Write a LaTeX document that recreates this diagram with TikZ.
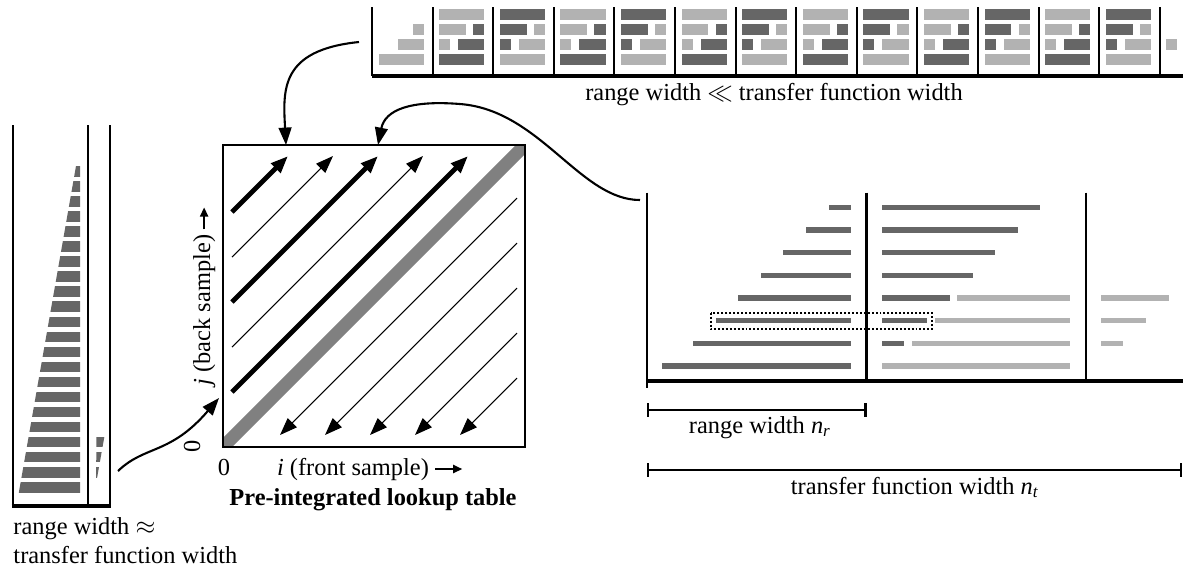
\documentclass[tikz,border=0pt]{standalone}
\usepackage{fontspec}
\setmainfont{Liberation Serif}
\usetikzlibrary{calc,arrows.meta}

\definecolor{darkbar}{gray}{0.4}
\definecolor{lightbar}{gray}{0.7}
\definecolor{diagband}{gray}{0.5}

\tikzset{
  >={Triangle[length=7.5pt,width=5.5pt]},
  every node/.style={inner sep=0pt,font=\fontsize{10.5}{12.6}\selectfont},
  wall/.style={line width=0.9pt},
  floor/.style={line width=1.9pt},
  thinray/.style={->,line width=0.45pt},
  thickray/.style={->,line width=2pt},
  linkarrow/.style={->,line width=0.9pt},
  axisarrow/.style={-{Triangle[length=4pt,width=3.4pt]},line width=1.1pt},
  widthbar/.style={{Bar[width=6pt]}-{Bar[width=6pt]},line width=1pt},
}

\begin{document}
\begin{tikzpicture}[x=0.43pt,y=-0.43pt]
  \useasboundingbox (0,0) rectangle (1183,573);

  % top strip
  \foreach \c in {0,...,13}
    \draw[wall] (372+60.6*\c,7) -- (372+60.6*\c,76);
  \draw[floor] (372,76) -- (1183,76);
  \foreach \c in {1,...,12} {
    \pgfmathsetmacro\xo{372+60.6*\c}
    \ifodd\c\relax\def\ca{lightbar}\def\cb{darkbar}\else\def\ca{darkbar}\def\cb{lightbar}\fi
    \fill[\ca] (\xo+6.5,9.3) rectangle (\xo+51.7,19.6);
    \fill[\ca] (\xo+6.5,24.3) rectangle (\xo+33.4,34.6);
    \fill[\cb] (\xo+40.5,24.3) rectangle (\xo+51.7,34.6);
    \fill[\ca] (\xo+6.5,39.3) rectangle (\xo+17.5,49.6);
    \fill[\cb] (\xo+25.5,39.3) rectangle (\xo+51.7,49.6);
    \fill[\cb] (\xo+6.5,54.3) rectangle (\xo+51.7,64.6);
  }
  \fill[lightbar] (412.5,24.3) rectangle (423.7,34.6);
  \fill[lightbar] (397.5,39.3) rectangle (423.7,49.6);
  \fill[lightbar] (378.5,54.3) rectangle (423.7,64.6);
  \fill[lightbar] (1166.3,39.3) rectangle (1177.3,49.6);
  \node[anchor=base] (striplbl) at (774,100) {range width $\ll$ transfer function width};

  % left strip
  \draw[wall] (12.7,125) -- (12.7,506);
  \draw[wall] (88.3,125) -- (88.3,506);
  \draw[wall] (110,125) -- (110,506);
  \draw[floor] (11.5,506) -- (111,506);
  \begin{scope}
    \clip (76,166) -- (80,166) -- (80,495) -- (18.4,495) -- cycle;
    \foreach \k in {0,...,21}
      \fill[darkbar] (0,166+15.05*\k) rectangle (90,176.5+15.05*\k);
  \end{scope}
  \begin{scope}
    \clip (96.5,436) -- (104.5,436) -- (96,484) -- cycle;
    \foreach \k in {18,19,20}
      \fill[darkbar] (90,166+15.05*\k) rectangle (108,176.5+15.05*\k);
  \end{scope}
  \node[anchor=base west] (leftlbl) at (13,534) {range width $\approx$};
  \node[anchor=base west] (leftlbl2) at (13,563) {transfer function width};

  % lookup table
  \begin{scope}
    \clip (223,145) rectangle (525,447);
    \draw[diagband,line width=5.6pt] (223,447) -- (525,145);
  \end{scope}
  \draw[line width=0.5pt] (223,145) rectangle (525,447);
  \foreach \k/\w in {0/thickray,1/thinray,2/thickray,3/thinray,4/thickray}
    \draw[\w] (232,212+45*\k) -- (288+45*\k,156);
  \foreach \k in {0,...,4}
    \draw[thinray] (517,198+45*\k) -- (280+45*\k,435);
  \node[anchor=base] (zeroi) at (224,475) {0};
  \node[anchor=base] (ilab) at (353,475) {\textit{i} (front sample)};
  \draw[axisarrow] ($(ilab.east)+(6,0)$) -- ++(27,0);
  \node[anchor=base,rotate=90] (zeroj) at (200,446.5) {0};
  \node[anchor=base,rotate=90] (jlab) at (210,310) {\textit{j} (back sample)};
  \draw[axisarrow] ($(jlab.east)+(0,-5)$) -- ++(0,-22);
  \node[anchor=base] (luttitle) at (373,505) {\textbf{Pre-integrated lookup table}};

  % right panel
  \draw[wall] (646.7,192.7) -- (646.7,388);
  \draw[wall] (866.5,192.7) -- (866.5,381);
  \draw[wall] (1086,192.7) -- (1086,381);
  \draw[floor] (646.7,381) -- (1183,381);
  \foreach \k/\s in {0/829,1/806,2/783.3,3/761,4/738.3,5/715.7,6/692.7,7/662.3}
    \fill[darkbar] (\s,204.6+22.67*\k) rectangle (851,210+22.67*\k);
  \foreach \k/\e in {0/1040.2,1/1017.6,2/995,3/972.5,4/949.5,5/927,6/904.4}
    \fill[darkbar] (881.7,204.6+22.67*\k) rectangle (\e,210+22.67*\k);
  \foreach \k/\s in {4/957.3,5/935,6/912,7/881.7}
    \fill[lightbar] (\s,204.6+22.67*\k) rectangle (1070.2,210+22.67*\k);
  \foreach \k/\e in {4/1168.5,5/1146,6/1123.4}
    \fill[lightbar] (1100.8,204.6+22.67*\k) rectangle (\e,210+22.67*\k);
  \draw[line width=0.85pt,dash pattern=on 0.85pt off 0.85pt] (710.7,312.7) rectangle (931.7,329.3);

  \coordinate (nrA) at (646.7,410);
  \coordinate (nrB) at (866.5,410);
  \draw[widthbar] (nrA) -- (nrB);
  \node[anchor=base] (nrlbl) at (760,433) {range width \textit{n}\textsubscript{\textit{r}}};
  \coordinate (ntA) at (646.7,470);
  \coordinate (ntB) at (1182,470);
  \draw[widthbar] (ntA) -- (ntB);
  \node[anchor=base] (ntlbl) at (915,494) {transfer function width \textit{n}\textsubscript{\textit{t}}};

  % links into the table
  \coordinate (stripout) at (359,42);
  \coordinate (lutA) at (286,145);
  \draw[linkarrow] (stripout) .. controls (280,50) and (283,90) .. (lutA);
  \coordinate (panelout) at (640,200);
  \coordinate (peak) at (460,104);
  \coordinate (lutB) at (378,145);
  \draw[linkarrow] (panelout) .. controls (580,200) and (540,110) .. (peak)
    .. controls (410,100) and (385,110) .. (lutB);
  \coordinate (leftout) at (118,471);
  \coordinate (lutC) at (219,398);
  \draw[linkarrow] (leftout) .. controls (145,445) and (170,455) .. (lutC);
\end{tikzpicture}
\end{document}
